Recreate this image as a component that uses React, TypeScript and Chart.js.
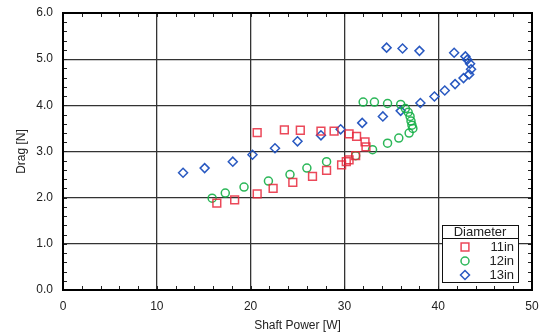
import React, { useEffect, useRef } from 'react';
import { Chart, registerables } from 'chart.js';

Chart.register(...registerables);

const legendTitle = 'Diameter';
const seriesLabels = ['11in', '12in', '13in'];

const power11 = [16.4, 18.3, 20.7, 22.4, 24.5, 26.6, 28.1, 29.7, 30.2, 30.5, 31.2, 32.3, 32.2, 31.3, 30.5, 28.9, 27.5, 25.3, 23.6, 20.7];
const drag11 = [1.88, 1.95, 2.08, 2.2, 2.33, 2.46, 2.59, 2.71, 2.78, 2.82, 2.91, 3.1, 3.21, 3.33, 3.38, 3.44, 3.44, 3.46, 3.47, 3.41];

const power12 = [15.9, 17.3, 19.3, 21.9, 24.2, 26.0, 28.1, 31.2, 33.0, 34.6, 35.8, 36.9, 37.3, 37.2, 37.1, 37.0, 36.8, 36.5, 36.0, 34.6, 33.2, 32.0];
const drag12 = [1.99, 2.1, 2.23, 2.36, 2.5, 2.64, 2.78, 2.91, 3.04, 3.18, 3.29, 3.4, 3.5, 3.57, 3.66, 3.76, 3.85, 3.93, 4.02, 4.04, 4.07, 4.07];

const power13 = [12.8, 15.1, 18.1, 20.2, 22.6, 25.0, 27.5, 29.6, 31.9, 34.1, 36.0, 38.1, 39.6, 40.7, 41.8, 42.7, 43.3, 43.5, 43.4, 43.1, 42.9, 41.7, 38.0, 36.2, 34.5];
const drag13 = [2.54, 2.64, 2.78, 2.93, 3.07, 3.22, 3.35, 3.48, 3.62, 3.76, 3.88, 4.05, 4.19, 4.32, 4.46, 4.59, 4.67, 4.78, 4.9, 4.99, 5.06, 5.14, 5.18, 5.23, 5.25];

const xMin = 0, xMax = 50, xStep = 10, xMinorStep = 2;
const yMin = 0, yMax = 6, yStep = 1, yMinorStep = 0.2;

const colors = ['rgba(232,40,60,0.85)', 'rgba(20,175,70,0.9)', 'rgba(30,80,190,0.95)'];
const styles = ['rect', 'circle', 'rectRot'];
const radii = [5.5, 4, 4.5];

const FONT = '"Liberation Sans", Arial, sans-serif';

function toPts(xs: number[], ys: number[]) {
  return xs.map((x, i) => ({ x, y: ys[i] }));
}

function drawMarker(ctx: CanvasRenderingContext2D, style: string, x: number, y: number, r: number) {
  ctx.beginPath();
  if (style === 'rect') {
    const s = Math.SQRT1_2 * r;
    ctx.rect(x - s, y - s, 2 * s, 2 * s);
  } else if (style === 'circle') {
    ctx.arc(x, y, r, 0, Math.PI * 2);
  } else {
    ctx.moveTo(x, y - r);
    ctx.lineTo(x + r, y);
    ctx.lineTo(x, y + r);
    ctx.lineTo(x - r, y);
    ctx.closePath();
  }
  ctx.stroke();
}

const framePlugin = {
  id: 'frameAndLegend',
  afterDatasetsDraw(chart: any) {
    const { ctx, chartArea: a, scales } = chart;
    const xs = scales.x, ys = scales.y;
    ctx.save();
    ctx.strokeStyle = '#222';
    ctx.lineWidth = 1;
    const tl = 4;
    for (let v = xMin; v <= xMax + 1e-9; v += xMinorStep) {
      const px = Math.round(xs.getPixelForValue(v)) + 0.5;
      ctx.beginPath();
      ctx.moveTo(px, a.bottom);
      ctx.lineTo(px, a.bottom - tl);
      ctx.moveTo(px, a.top);
      ctx.lineTo(px, a.top + tl);
      ctx.stroke();
    }
    for (let v = yMin; v <= yMax + 1e-9; v += yMinorStep) {
      const py = Math.round(ys.getPixelForValue(v)) + 0.5;
      ctx.beginPath();
      ctx.moveTo(a.left, py);
      ctx.lineTo(a.left + tl, py);
      ctx.moveTo(a.right, py);
      ctx.lineTo(a.right - tl, py);
      ctx.stroke();
    }
    ctx.strokeStyle = '#000';
    ctx.lineWidth = 2;
    ctx.strokeRect(a.left, a.top, a.right - a.left, a.bottom - a.top);

    const bx = 442, by = 225, bw = 76, bh = 57;
    ctx.fillStyle = '#fff';
    ctx.fillRect(bx, by, bw, bh);
    ctx.strokeStyle = '#111';
    ctx.lineWidth = 1;
    ctx.strokeRect(bx + 0.5, by + 0.5, bw, bh);
    ctx.beginPath();
    ctx.moveTo(bx, by + 13.5);
    ctx.lineTo(bx + bw, by + 13.5);
    ctx.stroke();
    ctx.fillStyle = '#222';
    ctx.font = '13px ' + FONT;
    ctx.textAlign = 'center';
    ctx.textBaseline = 'middle';
    ctx.fillText(legendTitle, bx + bw / 2, by + 7.5);
    seriesLabels.forEach((lab, i) => {
      const yy = by + 22 + i * 14;
      ctx.strokeStyle = colors[i];
      ctx.lineWidth = 1.5;
      drawMarker(ctx, styles[i], bx + 23, yy, radii[i]);
      ctx.fillStyle = '#222';
      ctx.textAlign = 'right';
      ctx.fillText(lab, bx + bw - 4, yy);
    });
    ctx.restore();
  },
};

export default function App() {
  const ref = useRef<HTMLCanvasElement>(null);
  useEffect(() => {
    document.body.style.margin = '0';
    const canvas = ref.current!;
    const datasets = [
      toPts(power11, drag11),
      toPts(power12, drag12),
      toPts(power13, drag13),
    ].map((data, i) => ({
      label: seriesLabels[i],
      data,
      showLine: false,
      pointStyle: styles[i] as any,
      pointRadius: radii[i],
      pointBorderColor: colors[i],
      pointBackgroundColor: 'rgba(0,0,0,0)',
      pointBorderWidth: 1.5,
    }));
    const chart = new Chart(canvas, {
      type: 'scatter',
      data: { datasets },
      options: {
        animation: false,
        responsive: false,
        layout: { padding: { top: 13, right: 14, left: 0, bottom: 0 } },
        plugins: { legend: { display: false }, tooltip: { enabled: false } },
        scales: {
          x: {
            type: 'linear',
            min: xMin,
            max: xMax,
            ticks: { stepSize: xStep, color: '#222', font: { size: 12, family: FONT }, padding: 9 },
            grid: { color: '#333', lineWidth: 1.3, drawTicks: false },
            border: { display: false },
            title: { display: true, text: 'Shaft Power [W]', color: '#222', font: { size: 12, family: FONT }, padding: { top: 4, bottom: 1 } },
            afterFit: (s: any) => { s.height = 44; s.paddingLeft = 0; s.paddingRight = 0; },
          },
          y: {
            type: 'linear',
            min: yMin,
            max: yMax,
            ticks: { stepSize: yStep, color: '#222', font: { size: 12, family: FONT }, padding: 10, callback: (v: any) => Number(v).toFixed(1) },
            grid: { color: '#333', lineWidth: 1.3, drawTicks: false },
            border: { display: false },
            title: { display: true, text: 'Drag [N]', color: '#222', font: { size: 12, family: FONT }, padding: { top: 14, bottom: 0 } },
            afterFit: (s: any) => { s.width = 63; s.paddingTop = 0; s.paddingBottom = 0; },
          },
        },
      },
      plugins: [framePlugin],
    });
    return () => chart.destroy();
  }, []);
  return (
    <div style={{ width: 546, height: 334 }}>
      <canvas ref={ref} width={546} height={334} />
    </div>
  );
}
